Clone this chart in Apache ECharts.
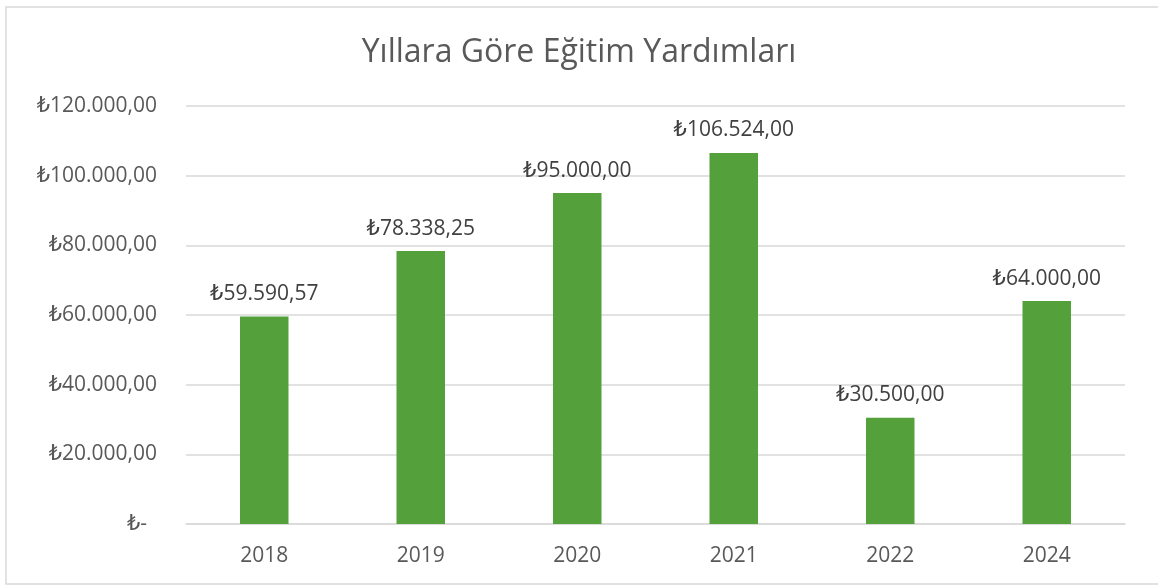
<!DOCTYPE html>
<html>
<head>
<meta charset="utf-8">
<script src="https://cdn.jsdelivr.net/npm/echarts@6/dist/echarts.min.js"></script>
<style>
html,body{margin:0;padding:0;background:#fff;}
#c{width:1158px;height:586px;}
</style>
</head>
<body>
<div id="c"></div>
<script>
const categories = ['2018', '2019', '2020', '2021', '2022', '2024'];
const values = [59590.57, 78338.25, 95000, 106524, 30500, 64000];
const titleText = 'Yıllara Göre Eğitim Yardımları';
const yTicks = [0, 20000, 40000, 60000, 80000, 100000, 120000];

function fmt(v) {
  const neg = v < 0;
  v = Math.abs(v);
  const fixed = v.toFixed(2);
  let [intPart, dec] = fixed.split('.');
  intPart = intPart.replace(/\B(?=(\d{3})+(?!\d))/g, '.');
  return (neg ? '-' : '') + '₺' + intPart + ',' + dec;
}

const FONT = '"Open Sans", "DejaVu Sans", sans-serif';
const chart = echarts.init(document.getElementById('c'));
chart.setOption({
  backgroundColor: '#fff',
  animation: false,
  title: {
    text: titleText,
    left: 'center',
    top: 32,
    textStyle: { fontFamily: FONT, fontSize: 32, fontWeight: 'normal', color: '#595959' }
  },
  graphic: [{
    type: 'rect',
    shape: { x: 6, y: 7, width: 1160, height: 577 },
    style: { fill: 'none', stroke: '#d9d9d9', lineWidth: 1.5 },
    silent: true
  }],
  grid: { left: 186, right: 33, top: 106, bottom: 62 },
  xAxis: {
    type: 'category',
    data: categories,
    axisLine: { show: true, lineStyle: { color: '#d9d9d9', width: 1.5 } },
    axisTick: { show: false },
    axisLabel: { fontFamily: FONT, fontSize: 21, color: '#595959', margin: 22 }
  },
  yAxis: {
    type: 'value',
    min: yTicks[0],
    max: yTicks[yTicks.length - 1],
    interval: yTicks[1] - yTicks[0],
    axisLine: { show: false },
    axisTick: { show: false },
    splitLine: { lineStyle: { color: '#d9d9d9', width: 1.5 } },
    axisLabel: {
      fontFamily: FONT, fontSize: 21, color: '#595959', margin: 29,
      formatter: function (v) { return v === 0 ? '{z|₺-}' : fmt(v); },
      rich: { z: { fontFamily: FONT, fontSize: 21, color: '#595959', padding: [0, 10, 0, 0] } }
    }
  },
  series: [{
    type: 'bar',
    data: values,
    barWidth: '31%',
    itemStyle: { color: '#54A03A' },
    label: {
      show: true,
      position: 'top',
      distance: 12,
      fontFamily: FONT,
      fontSize: 21,
      color: '#404040',
      formatter: function (p) { return fmt(p.value); }
    }
  }]
});
</script>
</body>
</html>
